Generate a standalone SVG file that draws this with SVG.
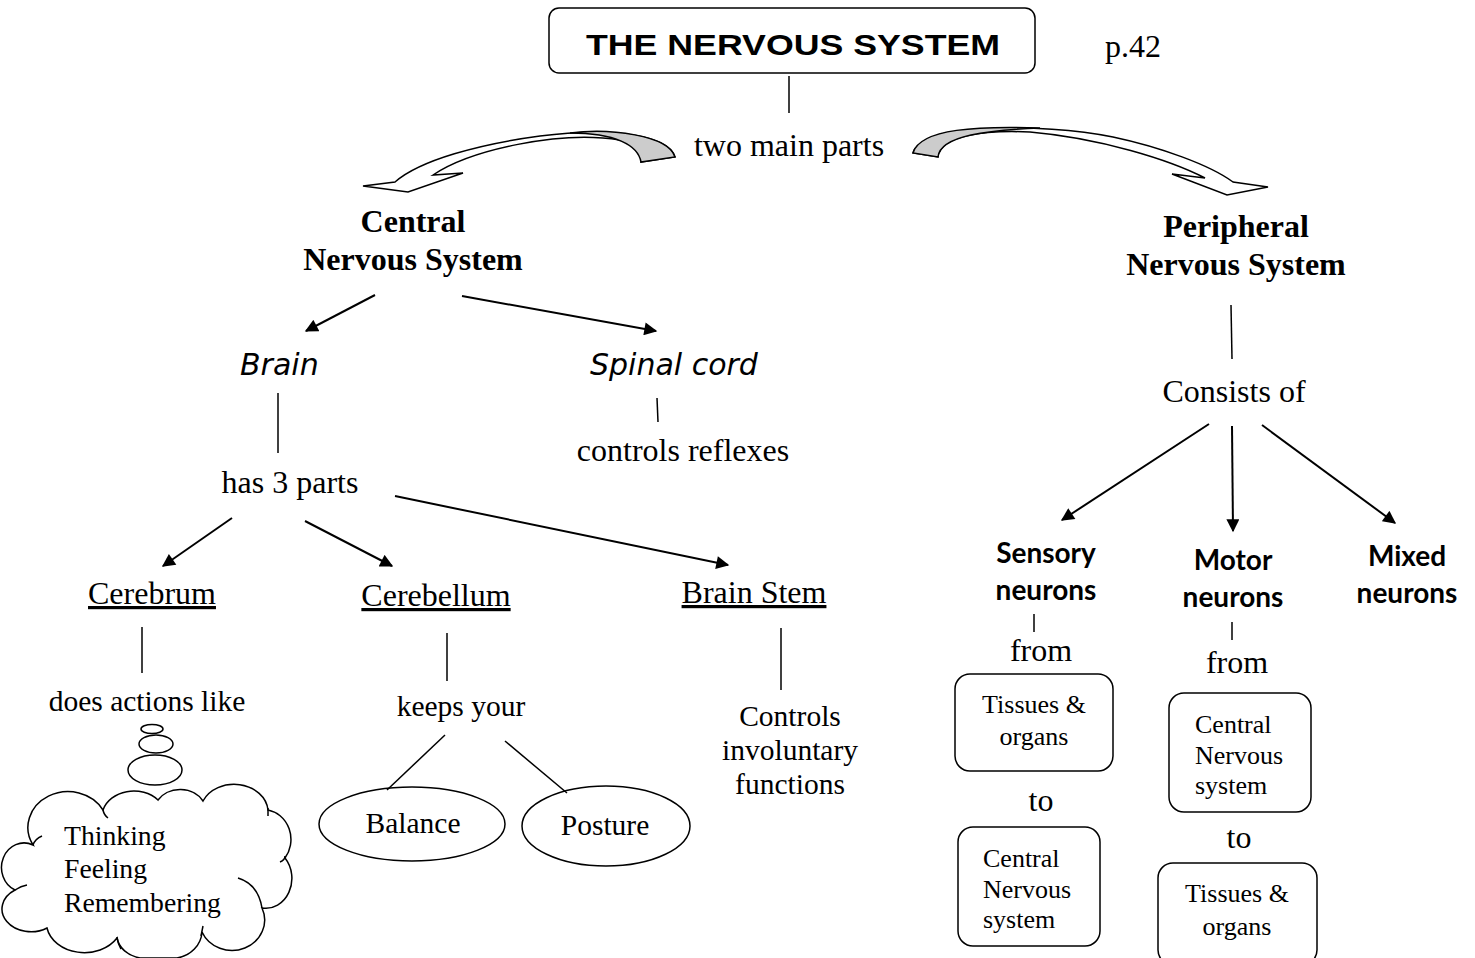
<svg xmlns="http://www.w3.org/2000/svg" width="1475" height="958" viewBox="0 0 1475 958">
<defs>
<marker id="ah" viewBox="0 0 10 10" refX="9" refY="5" markerWidth="14" markerHeight="13" markerUnits="userSpaceOnUse" orient="auto">
<path d="M0,0 L10,5 L0,10 Z" fill="#000"/>
</marker>
<style>
text{fill:#000}
.s{font-family:"Liberation Serif","Times New Roman",serif;font-size:32px}
.s2{font-family:"Liberation Serif","Times New Roman",serif;font-size:29.5px}
.t{font-family:"Liberation Serif","Times New Roman",serif;font-size:27.7px}
.sb{font-family:"Liberation Serif","Times New Roman",serif;font-size:32px;font-weight:bold}
.sm{font-family:"Liberation Serif","Times New Roman",serif;font-size:26px}
.c{font-family:"Comic Sans MS","DejaVu Sans",sans-serif;font-style:italic;font-size:30px}
.n{font-family:Lato,"Noto Sans",sans-serif;font-weight:bold;font-size:28px}
.m{text-anchor:middle}
.u{text-decoration:underline}
.ln{stroke:#000;stroke-width:1.5;fill:none}
.ar{stroke:#000;stroke-width:2;fill:none;marker-end:url(#ah)}
.bx{fill:#fff;stroke:#000;stroke-width:1.5}
</style>
</defs>
<rect width="1475" height="958" fill="#fff"/>

<g id="title">
<rect class="bx" x="549" y="8" width="486" height="65" rx="10"/>
<text x="586" y="55" font-family="Liberation Sans,Arial,sans-serif" font-weight="bold" font-size="30" textLength="414" lengthAdjust="spacingAndGlyphs">THE NERVOUS SYSTEM</text>
</g>
<g id="page"><text x="1105" y="57" class="s">p.42</text></g>
<g id="twomain"><text x="789" y="156" class="s m">two main parts</text></g>
<g id="cns"><text x="413" y="232" class="sb m">Central</text><text x="413" y="270" class="sb m">Nervous System</text></g>
<g id="pns"><text x="1236" y="237" class="sb m">Peripheral</text><text x="1236" y="275" class="sb m">Nervous System</text></g>
<g id="brain"><text x="240" y="375" class="c">Brain</text></g>
<g id="spinal"><text x="590" y="375" class="c">Spinal cord</text></g>
<g id="reflexes"><text x="683" y="461" class="s m">controls reflexes</text></g>
<g id="has3"><text x="290" y="493" class="s m">has 3 parts</text></g>
<g id="cerebrum"><text x="152" y="604" class="s m u">Cerebrum</text></g>
<g id="cerebellum"><text x="436" y="606" class="s m u">Cerebellum</text></g>
<g id="brainstem"><text x="754" y="603" class="s m u">Brain Stem</text></g>
<g id="actions"><text x="147" y="711" class="s2 m">does actions like</text></g>
<g id="keeps"><text x="461" y="716" class="s2 m">keeps your</text></g>
<g id="involuntary"><text x="790" y="726" class="s2 m">Controls</text><text x="790" y="760" class="s2 m">involuntary</text><text x="790" y="794" class="s2 m">functions</text></g>
<g id="balance"><ellipse class="bx" cx="412" cy="824" rx="93" ry="37"/><text x="413" y="833" class="s2 m">Balance</text></g>
<g id="posture"><ellipse class="bx" cx="606" cy="826" rx="84" ry="40"/><text x="605" y="835" class="s2 m">Posture</text></g>
<g id="thought">
<ellipse class="bx" cx="152" cy="729" rx="11" ry="4.5"/>
<ellipse class="bx" cx="156" cy="744" rx="17" ry="9"/>
<ellipse class="bx" cx="155" cy="770" rx="27" ry="15"/>
<path class="bx" d="M33,845 A38 34 0 0 1 103,810 A32 26 0 0 1 158,800 A26 22 0 0 1 203,801 A34 28 0 0 1 268,810 A28 30 0 0 1 285,858 A26 30 0 0 1 262,908 A30 28 0 0 1 202,932 A30 28 0 0 1 177,958 L140,958 A30 24 0 0 1 117,938 A38 30 0 0 1 47,928 A28 22 0 0 1 15,890 A22 24 0 0 1 33,845 Z"/>
<path class="ln" d="M238,878 Q258,884 262,908 M268,808 L268,816 M285,856 Q285,860 280,862 M203,926 L201,936 M117,937 Q118,944 121,949 M15,890 Q21,886 27,885 M33,845 Q35,839 42,836 M103,810 Q104,815 108,818"/>
<text x="64" y="845" class="t">Thinking</text>
<text x="64" y="878" class="t">Feeling</text>
<text x="64" y="912" class="t">Remembering</text>
</g>
<g id="consists"><text x="1234" y="402" class="s m">Consists of</text></g>
<g id="sensory"><text x="1046" y="563" class="n m">Sensory</text><text x="1046" y="600" class="n m">neurons</text></g>
<g id="motor"><text x="1233" y="570" class="n m">Motor</text><text x="1233" y="607" class="n m">neurons</text></g>
<g id="mixed"><text x="1407" y="566" class="n m">Mixed</text><text x="1407" y="603" class="n m">neurons</text></g>
<g id="from1"><text x="1041" y="661" class="s m">from</text></g>
<g id="from2"><text x="1237" y="673" class="s m">from</text></g>
<g id="to1"><text x="1041" y="811" class="s m">to</text></g>
<g id="to2"><text x="1239" y="848" class="s m">to</text></g>
<g id="tissues1"><rect class="bx" x="955" y="674" width="158" height="97" rx="15"/><text x="1034" y="713" class="sm m">Tissues &amp;</text><text x="1034" y="745" class="sm m">organs</text></g>
<g id="cns1"><rect class="bx" x="958" y="827" width="142" height="119" rx="15"/><text x="983" y="867" class="sm">Central</text><text x="983" y="898" class="sm">Nervous</text><text x="983" y="928" class="sm">system</text></g>
<g id="cns2"><rect class="bx" x="1169" y="693" width="142" height="119" rx="15"/><text x="1195" y="733" class="sm">Central</text><text x="1195" y="764" class="sm">Nervous</text><text x="1195" y="794" class="sm">system</text></g>
<g id="tissues2"><rect class="bx" x="1158" y="863" width="159" height="102" rx="15"/><text x="1237" y="902" class="sm m">Tissues &amp;</text><text x="1237" y="935" class="sm m">organs</text></g>

<g id="connectors">
<line class="ln" x1="789" y1="76" x2="789" y2="113"/>
<path fill="#fff" stroke="#000" stroke-width="1.5" d="M675,157 C668,132 600,128 540,136 C480,144 420,160 395,182 L363,186 L408,192 L463,173 L433,175 C470,150 560,130 620,140 C640,146 642,155 641,162 Z"/>
<path fill="#ccc" stroke="#000" stroke-width="1.5" d="M641,162 L675,157 C668,135 610,128 570,133 C615,133 638,145 641,162 Z"/>
<path fill="#fff" stroke="#000" stroke-width="1.5" d="M913,153 C920,125 1040,122 1113,137 C1160,147 1210,165 1233,182 L1268,187 L1227,195 L1172,174 L1205,178 C1170,160 1100,138 1030,132 C985,130 940,135 938,157 Z"/>
<path fill="#ccc" stroke="#000" stroke-width="1.5" d="M913,153 C920,128 980,126 1040,128 C990,130 940,135 938,157 Z"/>
<line class="ar" x1="375" y1="295" x2="306" y2="331"/>
<line class="ar" x1="462" y1="296" x2="656" y2="331"/>
<line class="ln" x1="278" y1="393" x2="278" y2="453"/>
<line class="ln" x1="657" y1="398" x2="658" y2="422"/>
<line class="ar" x1="232" y1="518" x2="163" y2="566"/>
<line class="ar" x1="305" y1="521" x2="392" y2="566"/>
<line class="ar" x1="395" y1="496" x2="728" y2="565"/>
<line class="ln" x1="142" y1="627" x2="142" y2="673"/>
<line class="ln" x1="447" y1="633" x2="447" y2="681"/>
<line class="ln" x1="781" y1="628" x2="781" y2="690"/>
<line class="ln" x1="445" y1="735" x2="387" y2="790"/>
<line class="ln" x1="505" y1="741" x2="567" y2="793"/>
<line class="ln" x1="1231" y1="305" x2="1232" y2="359"/>
<line class="ar" x1="1209" y1="424" x2="1062" y2="520"/>
<line class="ar" x1="1232" y1="426" x2="1233" y2="531"/>
<line class="ar" x1="1262" y1="425" x2="1395" y2="523"/>
<line class="ln" x1="1034" y1="614" x2="1034" y2="632"/>
<line class="ln" x1="1232" y1="622" x2="1232" y2="640"/>
</g>
</svg>
